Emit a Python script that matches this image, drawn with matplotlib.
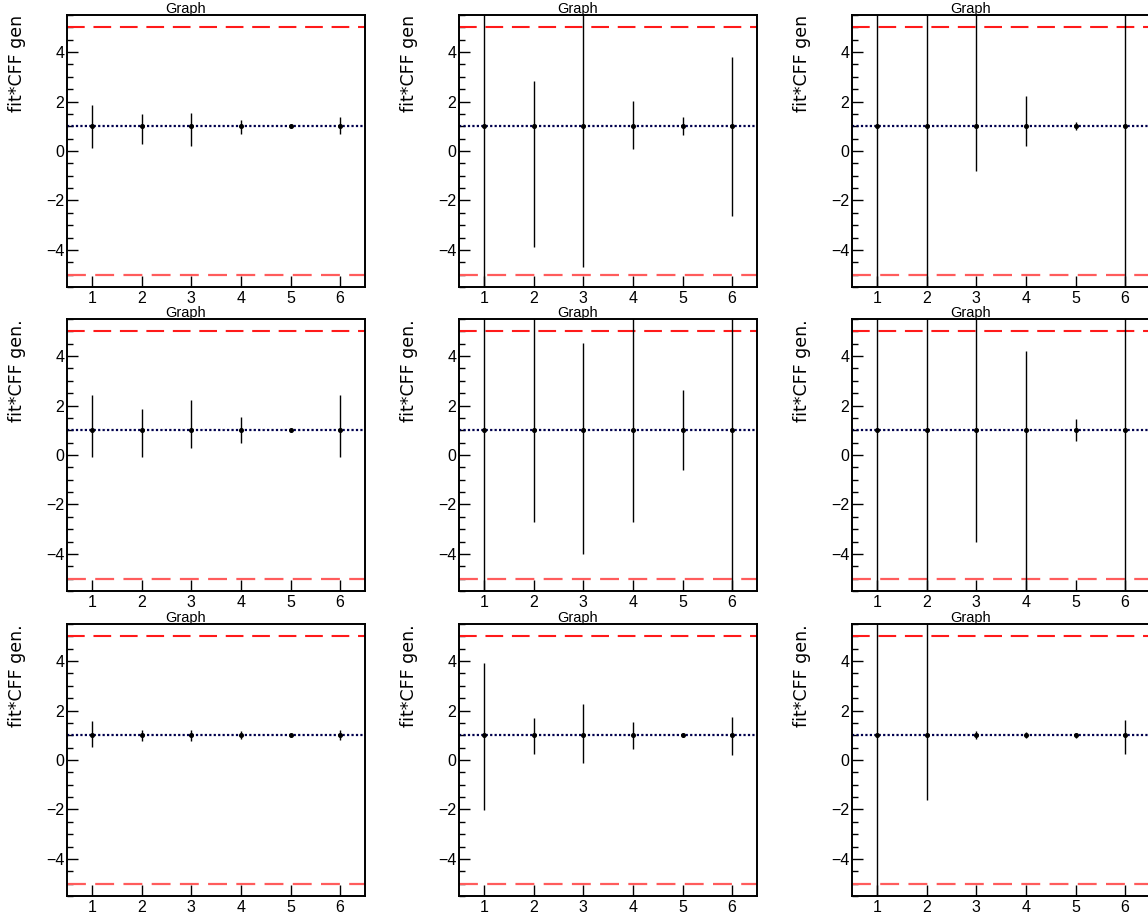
import numpy as np
import matplotlib
matplotlib.use('Agg')
import matplotlib.pyplot as plt
from matplotlib.ticker import MultipleLocator, FixedLocator

# CFF index and fitted ratio (all fits sit at 1)
cff = [1, 2, 3, 4, 5, 6]
ratio = [1, 1, 1, 1, 1, 1]

# upper / lower errors per pad, row by row (10 = runs off the frame)
p1_up = [0.85, 0.51, 0.52, 0.26, 0.08, 0.39]
p1_dn = [0.89, 0.70, 0.78, 0.32, 0.08, 0.32]
p2_up = [10, 1.84, 10, 1.02, 0.36, 2.80]
p2_dn = [10, 4.90, 5.71, 0.92, 0.36, 3.61]
p3_up = [10, 10, 10, 1.24, 0.17, 10]
p3_dn = [10, 10, 1.79, 0.81, 0.17, 10]
p4_up = [1.43, 0.86, 1.22, 0.52, 0.07, 1.43]
p4_dn = [1.09, 1.09, 0.71, 0.52, 0.07, 1.09]
p5_up = [10, 10, 3.51, 10, 1.62, 10]
p5_dn = [10, 3.71, 5.01, 3.71, 1.59, 10]
p6_up = [10, 10, 10, 3.20, 0.46, 10]
p6_dn = [10, 10, 4.51, 10, 0.44, 10]
p7_up = [0.59, 0.22, 0.22, 0.17, 0.06, 0.20]
p7_dn = [0.46, 0.24, 0.22, 0.16, 0.06, 0.20]
p8_up = [2.93, 0.71, 1.25, 0.55, 0.08, 0.75]
p8_dn = [3.01, 0.77, 1.12, 0.55, 0.08, 0.79]
p9_up = [10, 10, 0.16, 0.13, 0.10, 0.62]
p9_dn = [10, 2.61, 0.16, 0.13, 0.10, 0.77]

pads = [(p1_up, p1_dn), (p2_up, p2_dn), (p3_up, p3_dn),
        (p4_up, p4_dn), (p5_up, p5_dn), (p6_up, p6_dn),
        (p7_up, p7_dn), (p8_up, p8_dn), (p9_up, p9_dn)]
ytitles = ['fit*CFF gen'] * 3 + ['fit*CFF gen.'] * 6

helv = ['Liberation Sans', 'DejaVu Sans']

W, H = 1148, 919
fig = plt.figure(figsize=(W / 100, H / 100), dpi=100, facecolor='white')

lefts = [67, 459, 852]
tops = [15, 319, 624]
aw, ah = 298, 272

for i, (up, dn) in enumerate(pads):
    r, c = divmod(i, 3)
    x0, y0 = lefts[c], tops[r]
    ax = fig.add_axes([x0 / W, 1 - (y0 + ah) / H, aw / W, ah / H])

    ax.axhline(5, color='#ff1a1a', lw=1.5, dashes=(8.5, 4.2), zorder=2)
    ax.axhline(-5, color='#ff5c5c', lw=1.6, dashes=(8.5, 4.2), zorder=2)
    ax.axhline(1, color='#00004d', lw=1.6, dashes=(1.0, 1.0), zorder=2)

    ax.errorbar(cff, ratio, yerr=[dn, up], fmt='o', color='black',
                ms=2.6, elinewidth=1.0, capsize=0, zorder=3)

    ax.set_xlim(0.5, 6.5)
    ax.set_ylim(-5.5, 5.5)
    ax.xaxis.set_major_locator(FixedLocator(cff))
    ax.set_yticks([-4, -2, 0, 2, 4])
    ax.set_yticklabels(['\u22124', '\u22122', '0', '2', '4'])
    ax.yaxis.set_minor_locator(MultipleLocator(0.5))
    ax.tick_params(axis='both', which='both', direction='in',
                   top=False, right=False, width=1.0, colors='black',
                   labelsize=11.5, labelfontfamily=helv)
    ax.tick_params(axis='y', which='major', length=8, pad=2)
    ax.tick_params(axis='y', which='minor', length=4.5)
    ax.tick_params(axis='x', which='major', length=8, pad=3)
    for sp in ax.spines.values():
        sp.set_linewidth(1.4)

    # pad title and y-axis title
    fig.text((x0 + aw / 2 - 30) / W, 1 - (y0 - 2) / H, 'Graph',
             family=helv, fontsize=10.5, ha='center', va='baseline')
    fig.text((x0 - 50) / W, 1 - y0 / H, ytitles[i], family='DejaVu Sans',
             fontsize=12.5, rotation=90, ha='center', va='top')

fig.savefig('out.png', dpi=100)
